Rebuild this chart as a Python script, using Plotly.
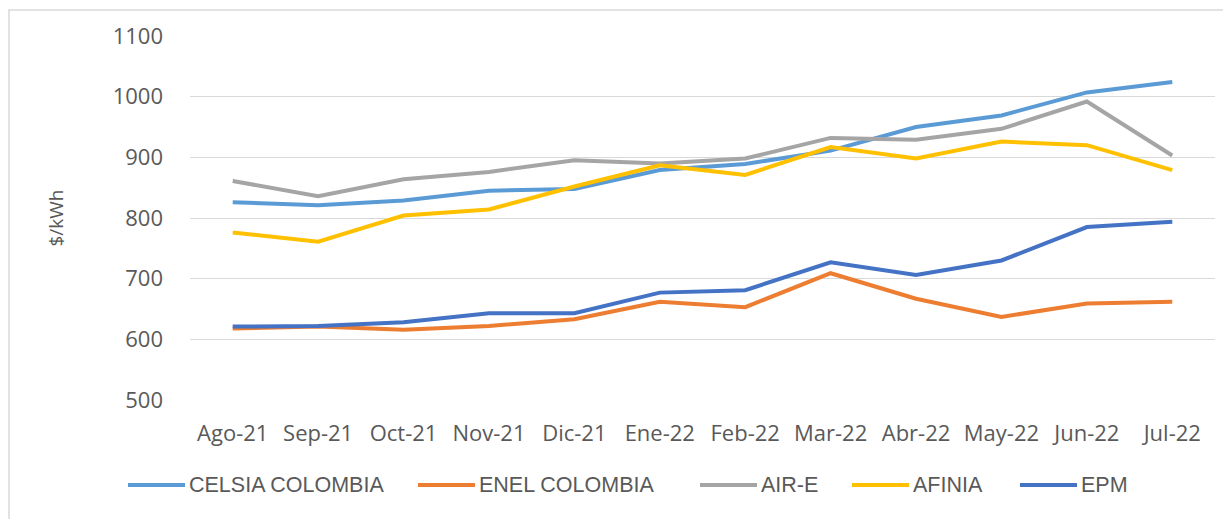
import plotly.graph_objects as go

meses = ["Ago-21", "Sep-21", "Oct-21", "Nov-21", "Dic-21", "Ene-22",
         "Feb-22", "Mar-22", "Abr-22", "May-22", "Jun-22", "Jul-22"]

celsia = [826, 821, 829, 845, 848, 879, 889, 911, 950, 969, 1007, 1024]
enel = [618, 621, 616, 622, 633, 662, 653, 709, 667, 637, 659, 662]
air_e = [861, 836, 864, 876, 895, 890, 898, 932, 929, 947, 992, 903]
afinia = [776, 761, 804, 814, 852, 887, 871, 917, 898, 926, 920, 879]
epm = [621, 622, 628, 643, 643, 677, 681, 727, 706, 730, 785, 794]

series = [
    ("CELSIA COLOMBIA", celsia, "#5B9BD5"),
    ("ENEL COLOMBIA", enel, "#ED7D31"),
    ("AIR-E", air_e, "#A5A5A5"),
    ("AFINIA", afinia, "#FFC000"),
    ("EPM", epm, "#4472C4"),
]

GRIS = "#595959"
TICK_FONT = "Open Sans, sans-serif"
LEG_FONT = "Liberation Sans, Arial, sans-serif"

# la pagina html deja 8px de margen en el body
OFF = 8
W, H = 1231 - OFF, 519 - OFF
# bordes del area de trazado (pixeles de la pagina)
PX_L, PX_R, PX_T, PX_B = 190, 1215, 36, 400
L, R, T, B = PX_L - OFF, W - (PX_R - OFF), PX_T - OFF, H - (PX_B - OFF)
PW, PH = PX_R - PX_L, PX_B - PX_T


def px_x(p):
    return (p - PX_L) / PW


def px_y(p):
    return (PX_B - p) / PH


fig = go.Figure()
for nombre, valores, color in series:
    fig.add_scatter(x=meses, y=valores, name=nombre, mode="lines",
                    line=dict(color=color, width=4), showlegend=False)

# marco exterior del grafico (estilo Excel)
fig.add_shape(type="rect", xref="paper", yref="paper",
              x0=px_x(9), x1=px_x(1260), y0=px_y(560), y1=px_y(10),
              line=dict(color="#D9D9D9", width=1.5), fillcolor="rgba(0,0,0,0)")

# leyenda al estilo Excel: linea larga + texto
leg_x = [128, 418, 700, 852, 1020]
leg_y = 485
for (nombre, _, color), lx in zip(series, leg_x):
    fig.add_shape(type="line", xref="paper", yref="paper",
                  x0=px_x(lx), x1=px_x(lx + 57), y0=px_y(leg_y), y1=px_y(leg_y),
                  line=dict(color=color, width=4))
    fig.add_annotation(xref="paper", yref="paper", x=px_x(lx + 59), y=px_y(leg_y),
                       xanchor="left", yanchor="middle", showarrow=False,
                       text=nombre, font=dict(family=LEG_FONT, size=21.5, color=GRIS))

fig.update_layout(
    width=W,
    height=H,
    margin=dict(l=L, r=R, t=T, b=B),
    paper_bgcolor="white",
    plot_bgcolor="white",
    font=dict(family=TICK_FONT, size=22, color=GRIS),
    showlegend=False,
)

fig.update_xaxes(range=[-0.5, 11.5], showgrid=False, showline=False, ticks="",
                 automargin=False, ticklabelstandoff=18,
                 tickfont=dict(family=TICK_FONT, size=22, color=GRIS))
fig.update_yaxes(range=[500, 1100], dtick=100, showgrid=True,
                 gridcolor="#D9D9D9", gridwidth=1, zeroline=False,
                 showline=False, ticks="", ticklabelstandoff=26, automargin=False,
                 tickfont=dict(family=TICK_FONT, size=22, color=GRIS),
                 title=dict(text="$/kWh", standoff=44,
                            font=dict(family=TICK_FONT, size=19, color=GRIS)))

fig.write_html("out.html")
